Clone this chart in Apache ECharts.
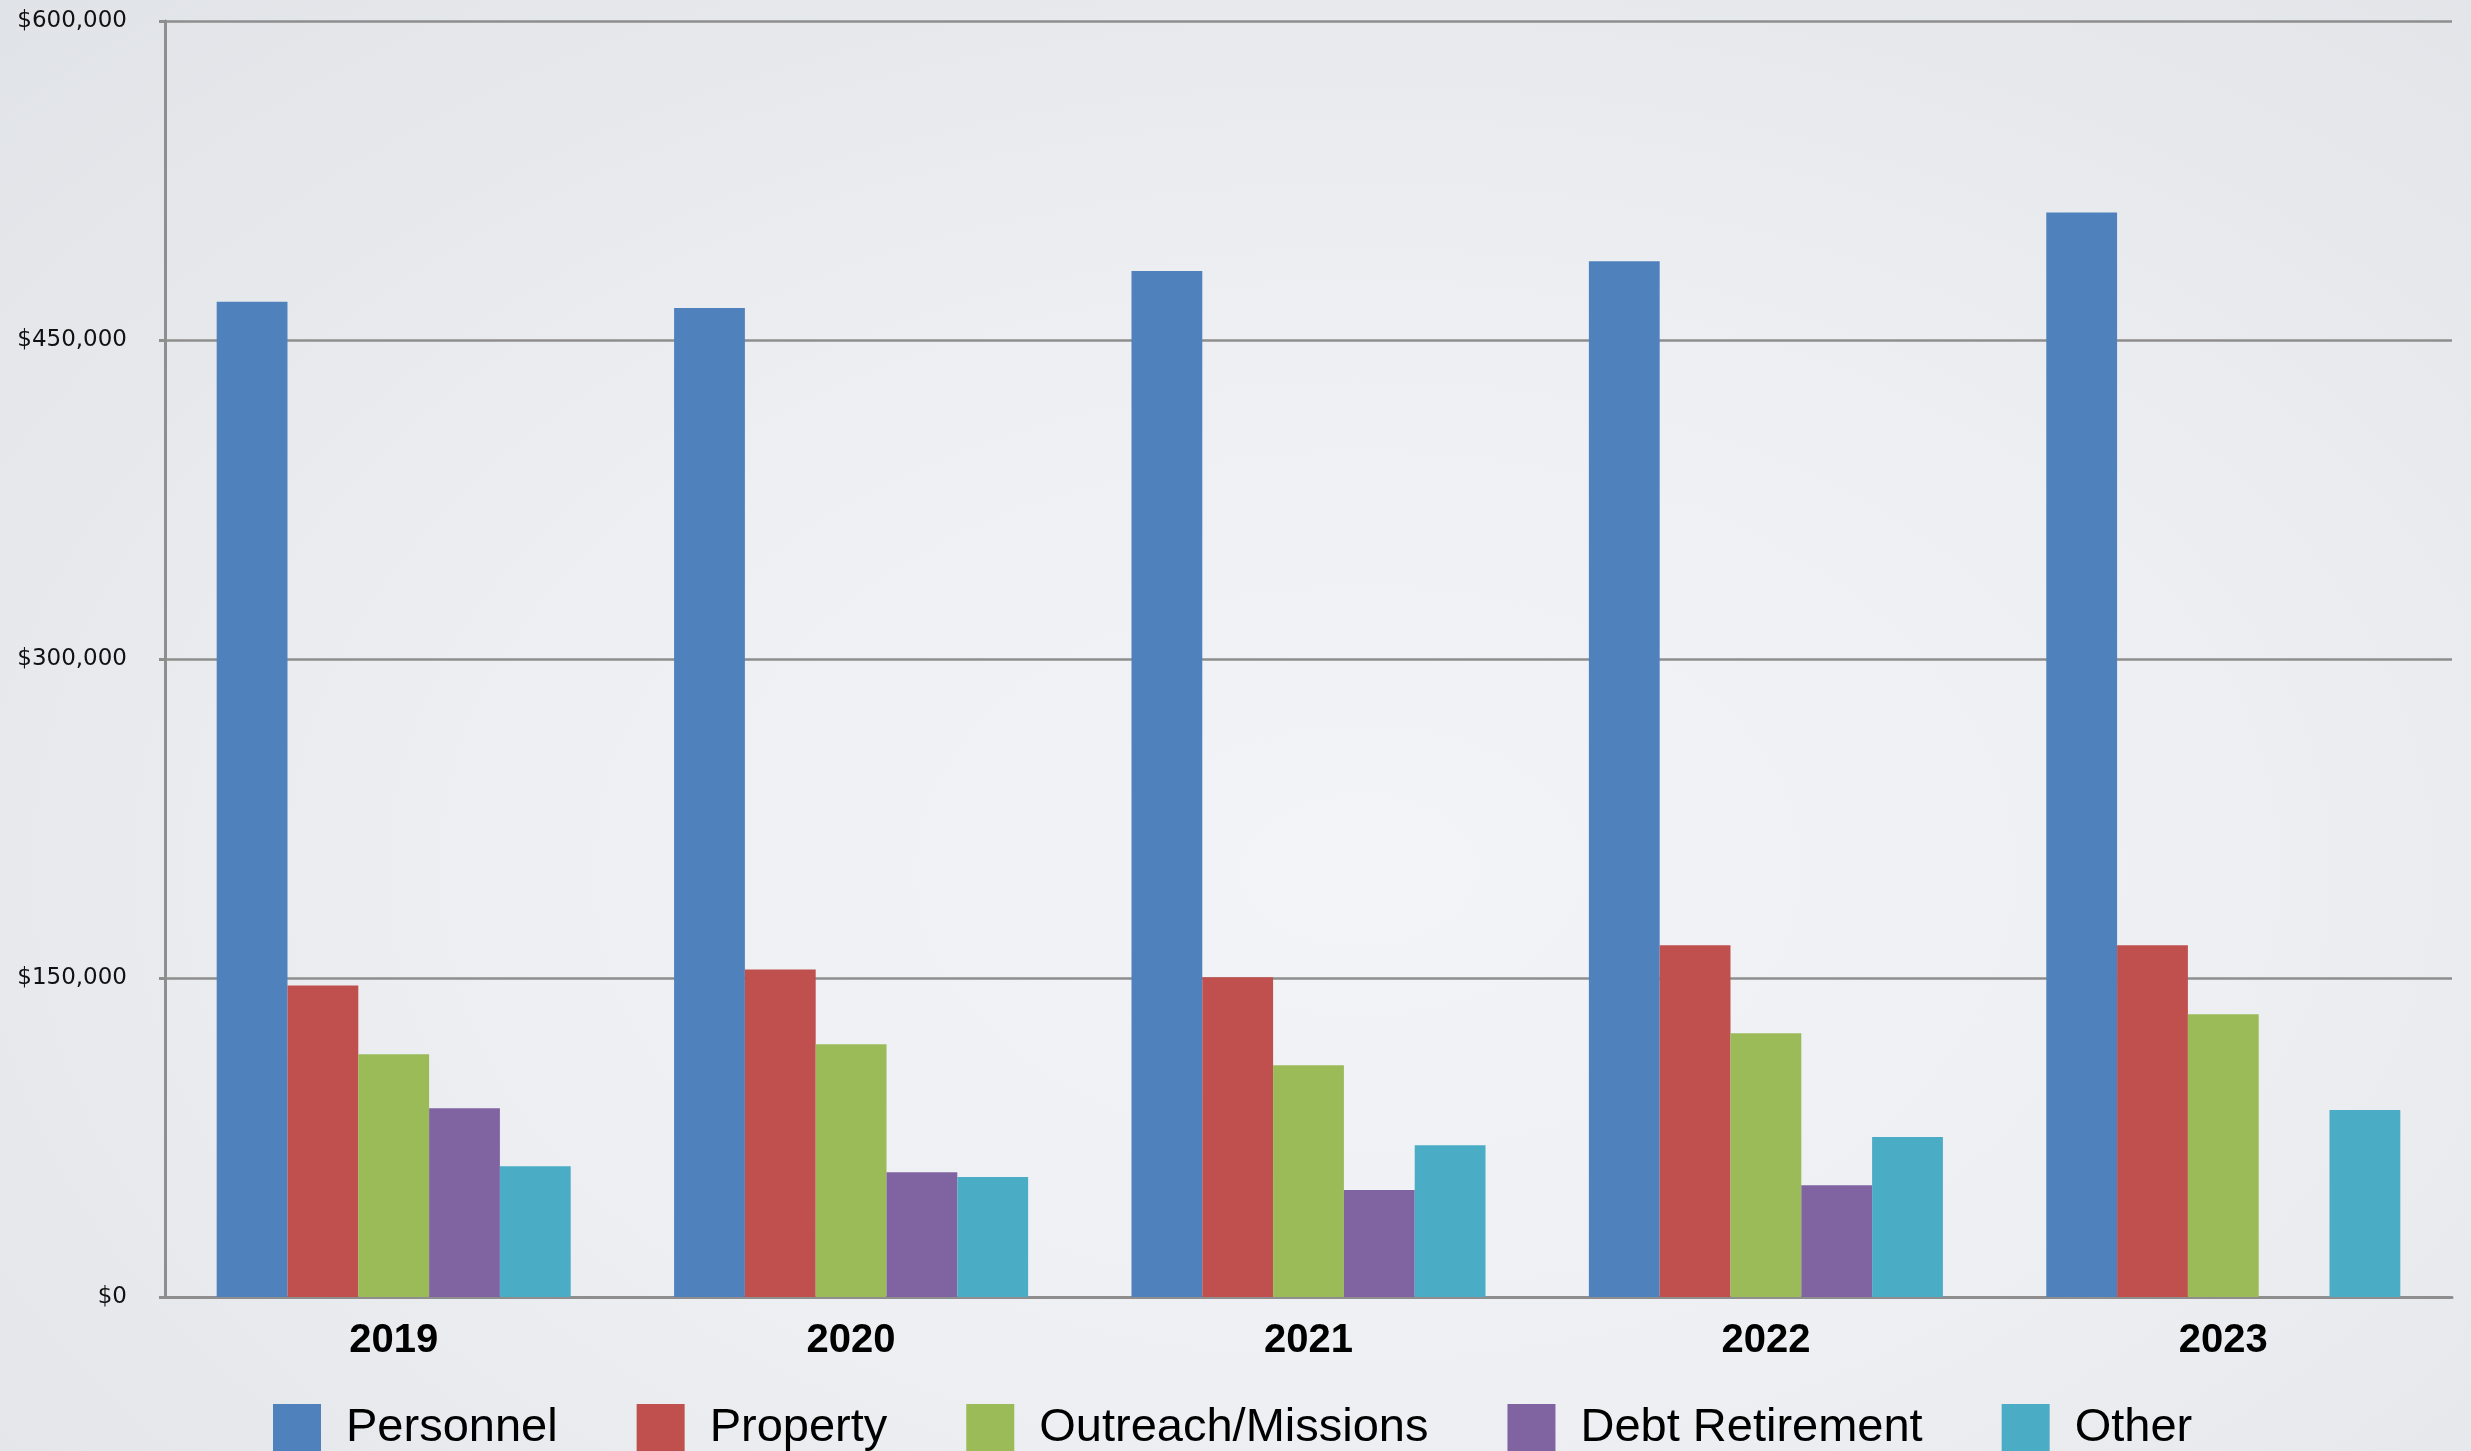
<!DOCTYPE html>
<html>
<head>
<meta charset="utf-8">
<script src="https://cdn.jsdelivr.net/npm/echarts@6/dist/echarts.min.js"></script>
<style>
  html, body { margin: 0; padding: 0; }
  body {
    width: 2471px; height: 1451px; overflow: hidden;
    background: radial-gradient(ellipse at 55% 60%, #f3f4f7 0%, #edeff2 45%, #e0e3e7 100%);
  }
  #chart { width: 2471px; height: 1451px; }
</style>
</head>
<body>
<div id="chart"></div>
<script>
var years = ['2019', '2020', '2021', '2022', '2023'];
var yTicks = [0, 150000, 300000, 450000, 600000];

var personnel = [468000, 465000, 482500, 487000, 510000];
var property = [146500, 154000, 150300, 165400, 165400];
var outreach = [114200, 118900, 109000, 124000, 133000];
var debt = [88800, 58700, 50300, 52600, 0];
var other = [61500, 56400, 71400, 75200, 87900];

var seriesNames = ['Personnel', 'Property', 'Outreach/Missions', 'Debt Retirement', 'Other'];
var seriesData = [personnel, property, outreach, debt, other];
var colors = ['#4f81bd', '#c0504d', '#9bbb59', '#8064a2', '#4bacc6'];

var gridColor = '#8e8e8e';

var myChart = echarts.init(document.getElementById('chart'));

var option = {
    backgroundColor: 'transparent',
    color: colors,
    animation: false,
    grid: { left: 165, right: 19, top: 21, bottom: 154 },
    legend: {
        left: 268,
        top: 1399,
        icon: 'rect',
        itemWidth: 48,
        itemHeight: 48,
        itemGap: 79,
        textStyle: {
            fontFamily: 'Liberation Sans',
            fontSize: 47,
            color: '#000',
            padding: [0, 0, 0, 20],
            lineHeight: 48
        },
        data: seriesNames
    },
    xAxis: {
        type: 'category',
        data: years,
        axisLine: { lineStyle: { color: gridColor, width: 3 } },
        axisTick: { show: false },
        axisLabel: {
            margin: 24,
            color: '#000',
            fontFamily: 'Liberation Sans',
            fontWeight: 'bold',
            fontSize: 40
        }
    },
    yAxis: {
        type: 'value',
        min: yTicks[0],
        max: yTicks[yTicks.length - 1],
        interval: yTicks[1] - yTicks[0],
        axisLine: { show: true, lineStyle: { color: gridColor, width: 3 } },
        axisTick: { show: true, length: 6, lineStyle: { color: gridColor, width: 3 } },
        splitLine: { lineStyle: { color: gridColor, width: 2.5 } },
        axisLabel: {
            margin: 38,
            color: '#111',
            fontFamily: 'DejaVu Sans',
            fontSize: 23,
            formatter: function (v) {
                return '$' + v.toLocaleString('en-US');
            }
        }
    },
    series: seriesNames.map(function (name, i) {
        return {
            name: name,
            type: 'bar',
            data: seriesData[i],
            barGap: '0%',
            barCategoryGap: '22.6%'
        };
    })
};

myChart.setOption(option);
</script>
</body>
</html>
